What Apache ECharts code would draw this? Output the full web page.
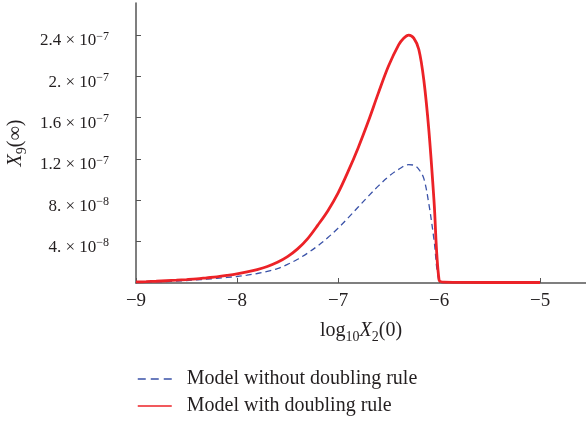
<!DOCTYPE html>
<html>
<head>
<meta charset="utf-8">
<script src="https://cdn.jsdelivr.net/npm/echarts@6/dist/echarts.min.js"></script>
<style>
html,body{margin:0;padding:0;background:#fff;}
#chart{width:586px;height:421px;}
</style>
</head>
<body>
<div id="chart"></div>
<script>
// Data
const redX = [-9.0, -8.9, -8.8, -8.7, -8.6, -8.5, -8.4, -8.3, -8.2, -8.1, -8.0, -7.9, -7.8, -7.7, -7.6, -7.5, -7.4, -7.3, -7.2, -7.1, -7.0, -6.9, -6.8, -6.7, -6.6, -6.5, -6.4, -6.35, -6.3, -6.25, -6.2, -6.15, -6.1, -6.05, -6.0, -5.95, -5.5, -5.0];
const redY = [1.0e-9, 1.3e-9, 1.7e-9, 2.2e-9, 2.7e-9, 3.3e-9, 4.0e-9, 5.0e-9, 6.0e-9, 7.3e-9, 8.8e-9, 1.07e-8, 1.3e-8, 1.6e-8, 2.0e-8, 2.55e-8, 3.3e-8, 4.3e-8, 5.6e-8, 7.0e-8, 8.7e-8, 1.08e-7, 1.31e-7, 1.565e-7, 1.84e-7, 2.10e-7, 2.305e-7, 2.37e-7, 2.40e-7, 2.37e-7, 2.26e-7, 1.96e-7, 1.47e-7, 8.0e-8, 3e-9, 8e-10, 5e-10, 5e-10];

const blueX = [-9.0, -8.9, -8.8, -8.7, -8.6, -8.5, -8.4, -8.3, -8.2, -8.1, -8.0, -7.9, -7.8, -7.7, -7.6, -7.5, -7.4, -7.3, -7.2, -7.1, -7.0, -6.9, -6.8, -6.7, -6.6, -6.5, -6.4, -6.3, -6.25, -6.2, -6.15, -6.1, -6.05, -6.0, -5.95, -5.5, -5.0];
const blueY = [5e-10, 7e-10, 1.0e-9, 1.3e-9, 1.8e-9, 2.4e-9, 3.0e-9, 3.7e-9, 4.5e-9, 5.4e-9, 6.3e-9, 7.6e-9, 9.2e-9, 1.12e-8, 1.4e-8, 1.8e-8, 2.3e-8, 2.9e-8, 3.6e-8, 4.4e-8, 5.3e-8, 6.3e-8, 7.35e-8, 8.4e-8, 9.4e-8, 1.03e-7, 1.10e-7, 1.145e-7, 1.14e-7, 1.1e-7, 1.01e-7, 7.6e-8, 4.2e-8, 2e-9, 5e-10, 5e-10, 5e-10];

const seriesNames = ['Model without doubling rule', 'Model with doubling rule'];

const xTicks = [-9, -8, -7, -6, -5];
const yTicks = [4e-8, 8e-8, 1.2e-7, 1.6e-7, 2e-7, 2.4e-7];
const yTickMantissa = ['4.', '8.', '1.2', '1.6', '2.', '2.4'];
const yTickExponent = ['−8', '−8', '−7', '−7', '−7', '−7'];

const FONT = '"Liberation Serif", "DejaVu Serif", serif';
const AXIS_COLOR = '#555';
const TEXT_COLOR = '#231f20';
const BLUE = '#3a52a8';
const RED = '#ec2227';

const zip = (xs, ys) => xs.map((x, i) => [x, ys[i]]);

const nameRich = (size) => ({
  b: {fontFamily: FONT, fontSize: size, color: TEXT_COLOR, verticalAlign: 'top', lineHeight: size + 3},
  i: {fontFamily: FONT, fontSize: size, fontStyle: 'italic', color: TEXT_COLOR, verticalAlign: 'top', lineHeight: size + 3},
  s: {fontFamily: FONT, fontSize: Math.round(size * 0.7), color: TEXT_COLOR, verticalAlign: 'bottom', lineHeight: Math.round(size * 0.7), padding: [Math.round(size * 0.72), 0, 0, 0]}
});

const chart = echarts.init(document.getElementById('chart'), null, {renderer: 'canvas'});
chart.setOption({
  animation: false,
  backgroundColor: '#fff',
  textStyle: {fontFamily: FONT, color: TEXT_COLOR},
  grid: {left: 136, right: 0, top: 3, bottom: 138, containLabel: false, outerBoundsMode: 'none'},
  legend: {
    orient: 'vertical',
    left: 137,
    top: 369,
    padding: 0,
    itemWidth: 34,
    itemHeight: 20,
    itemGap: 7,
    data: [
      {name: seriesNames[0], lineStyle: {type: [8, 5], width: 1.5}},
      {name: seriesNames[1], lineStyle: {width: 1.5}}
    ],
    itemStyle: {opacity: 0},
    lineStyle: {width: 1.5},
    textStyle: {fontFamily: FONT, fontSize: 20, color: TEXT_COLOR, padding: [0, 0, 0, 10]}
  },
  xAxis: {
    type: 'value',
    min: -9,
    max: -4.545,
    axisLine: {show: true, onZero: false, lineStyle: {color: AXIS_COLOR, width: 1.5}},
    axisTick: {show: true, inside: true, length: 5, customValues: xTicks, lineStyle: {color: AXIS_COLOR, width: 1}},
    axisLabel: {
      customValues: xTicks,
      margin: 9,
      fontFamily: FONT, fontSize: 19, color: TEXT_COLOR,
      formatter: v => (v < 0 ? '\u2212' : '') + Math.abs(v)
    },
    splitLine: {show: false},
    name: '{b|log}{s|10}{i|X}{s|2}{b|(0)}',
    nameLocation: 'middle',
    nameGap: 31,
    nameTextStyle: {rich: nameRich(20)}
  },
  yAxis: {
    type: 'value',
    min: 0,
    max: 2.71e-7,
    axisLine: {show: true, lineStyle: {color: AXIS_COLOR, width: 1.5}},
    axisTick: {show: true, inside: true, length: 5, customValues: yTicks, lineStyle: {color: AXIS_COLOR, width: 1}},
    axisLabel: {
      customValues: yTicks,
      margin: 27,
      padding: [10, 0, 0, 0],
      formatter: v => {
        let idx = 0, best = Infinity;
        yTicks.forEach((t, i) => { const d = Math.abs(t - v); if (d < best) { best = d; idx = i; } });
        return '{m|' + yTickMantissa[idx] + ' × 10}{e|' + yTickExponent[idx] + '}';
      },
      rich: {
        m: {fontFamily: FONT, fontSize: 17, color: TEXT_COLOR, verticalAlign: 'bottom', lineHeight: 19},
        e: {fontFamily: FONT, fontSize: 12, color: TEXT_COLOR, verticalAlign: 'top', lineHeight: 12, padding: [0, 0, 8, 0]}
      }
    },
    splitLine: {show: false},
    name: '{i|X}{s|9}{b|(∞)}',
    nameLocation: 'middle',
    nameRotate: 90,
    nameGap: 104,
    nameTextStyle: {rich: nameRich(20)}
  },
  series: [
    {
      name: seriesNames[0],
      type: 'line',
      data: zip(blueX, blueY),
      showSymbol: false,
      symbol: 'none',
      smooth: 0.35,
      lineStyle: {color: BLUE, width: 1.3, type: [6, 4]},
      itemStyle: {color: BLUE},
      z: 2
    },
    {
      name: seriesNames[1],
      type: 'line',
      data: zip(redX, redY),
      showSymbol: false,
      symbol: 'none',
      smooth: 0.35,
      lineStyle: {color: RED, width: 2.8},
      itemStyle: {color: RED},
      z: 3
    }
  ]
});
</script>
</body>
</html>
